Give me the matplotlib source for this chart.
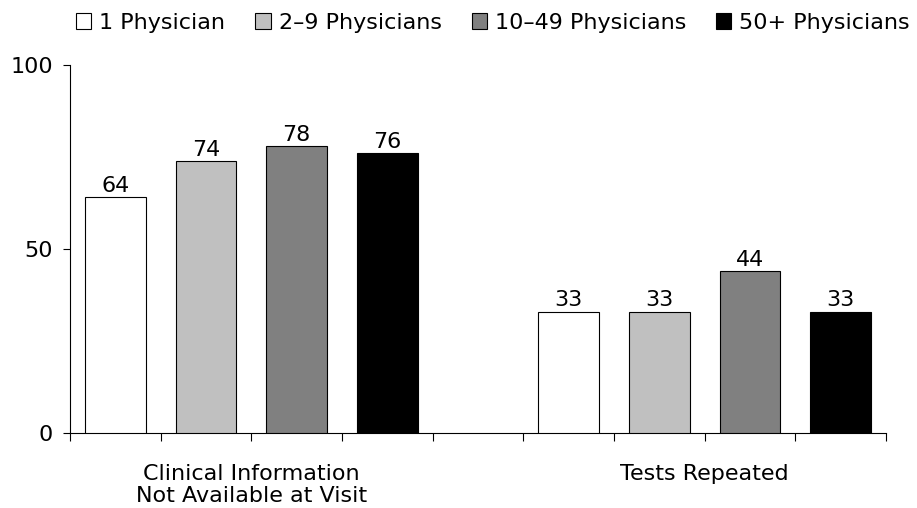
import matplotlib
matplotlib.use("Agg")
import matplotlib.pyplot as plt
import numpy as np

categories = ["Clinical Information\nNot Available at Visit", "Tests Repeated"]
series = ["1 Physician", "2\u20139 Physicians", "10\u201349 Physicians", "50+ Physicians"]
values = {
    "1 Physician": [64, 33],
    "2\u20139 Physicians": [74, 33],
    "10\u201349 Physicians": [78, 44],
    "50+ Physicians": [76, 33],
}
colors = ["#ffffff", "#c0c0c0", "#808080", "#000000"]
yticks = [0, 50, 100]

FS = 16
plt.rcParams['font.family'] = ['DejaVu Sans']
fig = plt.figure(figsize=(9.17, 5.08), dpi=100)
ax = fig.add_axes([70/917, 1-433/508, 816/917, (433-65)/508])

nser = len(series)
slots_per_group = nser + 1
width = 0.67
for gi, cat in enumerate(categories):
    for si, s in enumerate(series):
        x = gi * slots_per_group + si + 0.5
        v = values[s][gi]
        ax.bar(x, v, width=width, color=colors[si], edgecolor="black", linewidth=0.8,
               label=s if gi == 0 else None, zorder=3)
        ax.text(x, v + 1.4, str(v), ha="center", va="baseline", fontsize=FS)

total = len(categories) * slots_per_group - 1
ax.set_xlim(0, total)
ax.set_ylim(0, 100)
ax.set_xticks(np.arange(0, total + 1))
ax.set_xticklabels([])
ax.tick_params(axis="x", length=6, width=0.8, direction="out")
ax.set_yticks(yticks)
ax.set_yticklabels([str(t) for t in yticks], fontsize=FS)
ax.tick_params(axis="y", length=5.3, width=0.8, direction="out", pad=7)
for sp in ["top", "right"]:
    ax.spines[sp].set_visible(False)
for sp in ["left", "bottom"]:
    ax.spines[sp].set_linewidth(0.8)

for gi, cat in enumerate(categories):
    cx = gi * slots_per_group + nser / 2
    ax.text(cx, -8.4, cat, ha="center", va="top", fontsize=FS, linespacing=1.15)

fig.legend(loc="upper right", bbox_to_anchor=(0.997, 0.984), ncol=4, frameon=False,
           fontsize=FS, handlelength=0.68, handleheight=0.7, handletextpad=0.36,
           columnspacing=1.35, borderaxespad=0.0, borderpad=0.2)

fig.savefig("out.png", dpi=100)
